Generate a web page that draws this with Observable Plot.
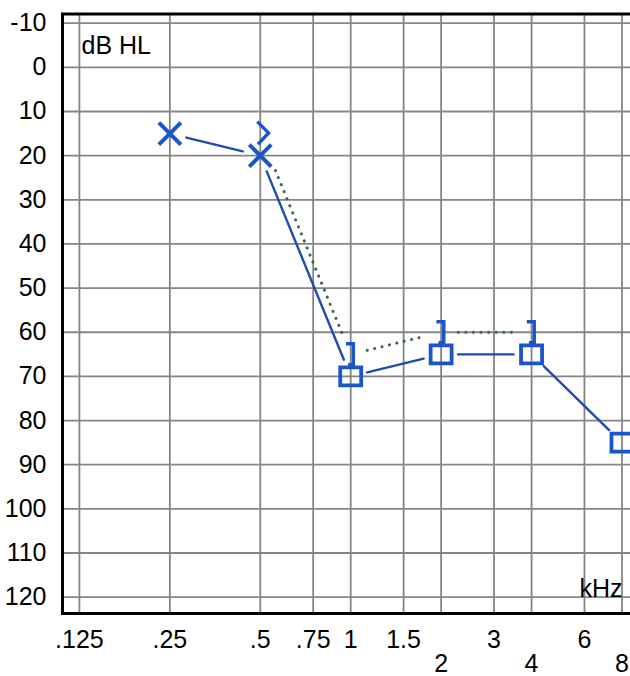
<!DOCTYPE html>
<html>
<head>
<meta charset="utf-8">
<script src="https://cdn.jsdelivr.net/npm/d3@7"></script>
<script src="https://cdn.jsdelivr.net/npm/@observablehq/plot@0.6"></script>
<style>
html, body { margin: 0; padding: 0; background: #fff; overflow: hidden; }
</style>
</head>
<body>
<div id="chart"></div>
<script>
// Unmasked air conduction (X)
const airFreq = [0.25, 0.5];
const airDb = [15, 20];
// Masked air conduction (square)
const maskedAirFreq = [1, 2, 4, 8];
const maskedAirDb = [70, 65, 65, 85];
// Unmasked bone conduction (>)
const boneFreq = [0.5];
const boneDb = [15];
// Masked bone conduction (])
const maskedBoneFreq = [1, 2, 4];
const maskedBoneDb = [65, 60, 60];

// Tick values / labels
const yTicks = [-10, 0, 10, 20, 30, 40, 50, 60, 70, 80, 90, 100, 110, 120];
const yLabels = ["-10", "0", "10", "20", "30", "40", "50", "60", "70", "80", "90", "100", "110", "120"];
const xGridTicks = [0.125, 0.25, 0.5, 0.75, 1, 1.5, 2, 3, 4, 6, 8];
const xRow1Ticks = [0.125, 0.25, 0.5, 0.75, 1, 1.5, 3, 6];
const xRow1Labels = [".125", ".25", ".5", ".75", "1", "1.5", "3", "6"];
const xRow2Ticks = [2, 4, 8];
const xRow2Labels = ["2", "4", "8"];
const yTitle = "dB HL";
const xTitle = "kHz";

const blue = "#1a56c8";
const lineBlue = "#1f4cae";
const dotGreen = "#3a6656";
const font = "'Liberation Sans', Arial, Helvetica, sans-serif";

// tables
const airPts = airFreq.map((f, i) => ({f, db: airDb[i]}));
const maskedAirPts = maskedAirFreq.map((f, i) => ({f, db: maskedAirDb[i]}));
const bonePts = boneFreq.map((f, i) => ({f, db: boneDb[i]}));
const maskedBonePts = maskedBoneFreq.map((f, i) => ({f, db: maskedBoneDb[i]}));

const airSeq = [...airPts, ...maskedAirPts];
const airSegs = d3.pairs(airSeq).map(([a, b]) => ({x1: a.f, y1: a.db, x2: b.f, y2: b.db}));
const boneSeq = [...bonePts, ...maskedBonePts];
const boneSegs = d3.pairs(boneSeq).map(([a, b]) => ({x1: a.f, y1: a.db, x2: b.f, y2: b.db}));

// custom symbols (screen space, y down)
const rOf = size => Math.sqrt(size / Math.PI);
const symTimes = {draw(ctx, size) { const r = rOf(size);
  ctx.moveTo(-r, -r); ctx.lineTo(r, r); ctx.moveTo(-r, r); ctx.lineTo(r, -r); }};
const symSquare = {draw(ctx, size) { const r = rOf(size);
  const w = 1.05 * r, h = 0.9 * r;
  ctx.moveTo(-w, -h); ctx.lineTo(w, -h); ctx.lineTo(w, h); ctx.lineTo(-w, h); ctx.closePath(); }};
const symBracket = {draw(ctx, size) { const r = rOf(size);
  ctx.moveTo(-0.45 * r, -r); ctx.lineTo(0.25 * r, -r); ctx.lineTo(0.25 * r, r); ctx.lineTo(-0.25 * r, r); }};
const symGreater = {draw(ctx, size) { const r = rOf(size);
  ctx.moveTo(-0.25 * r, -r); ctx.lineTo(0.7 * r, -0.05 * r); ctx.lineTo(-0.2 * r, 0.9 * r); }};

const chart = Plot.plot({
  width: 640,
  height: 676,
  marginLeft: 62,
  marginRight: 0,
  marginTop: 13.5,
  marginBottom: 63,
  style: {fontFamily: font, fontSize: "25px", color: "#000", background: "#fff", maxWidth: "none", overflow: "visible"},
  x: {type: "log", base: 2, domain: [0.1098, 9.22], axis: null},
  y: {domain: [-12.08, 123.7], reverse: true, axis: null},
  marks: [
    Plot.gridX(xGridTicks, {stroke: "#858585", strokeOpacity: 1, strokeWidth: 1.8}),
    Plot.gridY(yTicks, {stroke: "#858585", strokeOpacity: 1, strokeWidth: 1.8}),
    Plot.frame({stroke: "#000", strokeWidth: 3}),
    Plot.axisY(yTicks, {tickSize: 0, tickPadding: 16, fontSize: 25, label: null, fill: "#000",
      tickFormat: d => yLabels[yTicks.indexOf(d)]}),
    Plot.axisX(xRow1Ticks, {tickSize: 0, tickPadding: 17, fontSize: 25, label: null, fill: "#000",
      tickFormat: d => xRow1Labels[xRow1Ticks.indexOf(d)]}),
    Plot.axisX(xRow2Ticks, {tickSize: 0, tickPadding: 41, fontSize: 25, label: null, fill: "#000",
      tickFormat: d => xRow2Labels[xRow2Ticks.indexOf(d)]}),
    Plot.text([yTitle], {text: d => d, frameAnchor: "top-left", textAnchor: "start", lineAnchor: "top",
      dx: 19, dy: 22, fontSize: 25, fill: "#000"}),
    Plot.text([xTitle], {text: d => d, frameAnchor: "bottom-right", textAnchor: "end", lineAnchor: "bottom",
      dx: -18, dy: -17, fontSize: 25, fill: "#000"}),
    // bone conduction dotted line
    Plot.arrow(boneSegs.slice(0, 1), {x1: "x1", y1: "y1", x2: "x2", y2: "y2", headLength: 0, bend: 0,
      insetStart: 40, insetEnd: 20, stroke: dotGreen, strokeWidth: 3, strokeDasharray: "0.1 7.5", strokeLinecap: "round"}),
    Plot.arrow(boneSegs.slice(1), {x1: "x1", y1: "y1", x2: "x2", y2: "y2", headLength: 0, bend: 0,
      insetStart: 17, insetEnd: 19, stroke: dotGreen, strokeWidth: 3, strokeDasharray: "0.1 7.5", strokeLinecap: "round"}),
    // air conduction solid line
    Plot.arrow(airSegs, {x1: "x1", y1: "y1", x2: "x2", y2: "y2", headLength: 0, bend: 0,
      insetStart: 17, insetEnd: 18, stroke: lineBlue, strokeWidth: 2.4}),
    // symbols
    Plot.dot(airPts, {x: "f", y: "db", symbol: symTimes, r: 11, fill: "none", stroke: blue, strokeWidth: 4}),
    Plot.dot(maskedAirPts, {x: "f", y: "db", symbol: symSquare, r: 10, fill: "none", stroke: blue, strokeWidth: 3.8}),
    Plot.dot(maskedBonePts, {x: "f", y: "db", symbol: symBracket, r: 10.5, fill: "none", stroke: blue, strokeWidth: 3.5}),
    Plot.dot(bonePts, {x: "f", y: "db", symbol: symGreater, r: 12, fill: "none", stroke: blue, strokeWidth: 3.3})
  ]
});
document.getElementById("chart").appendChild(chart);
</script>
</body>
</html>
